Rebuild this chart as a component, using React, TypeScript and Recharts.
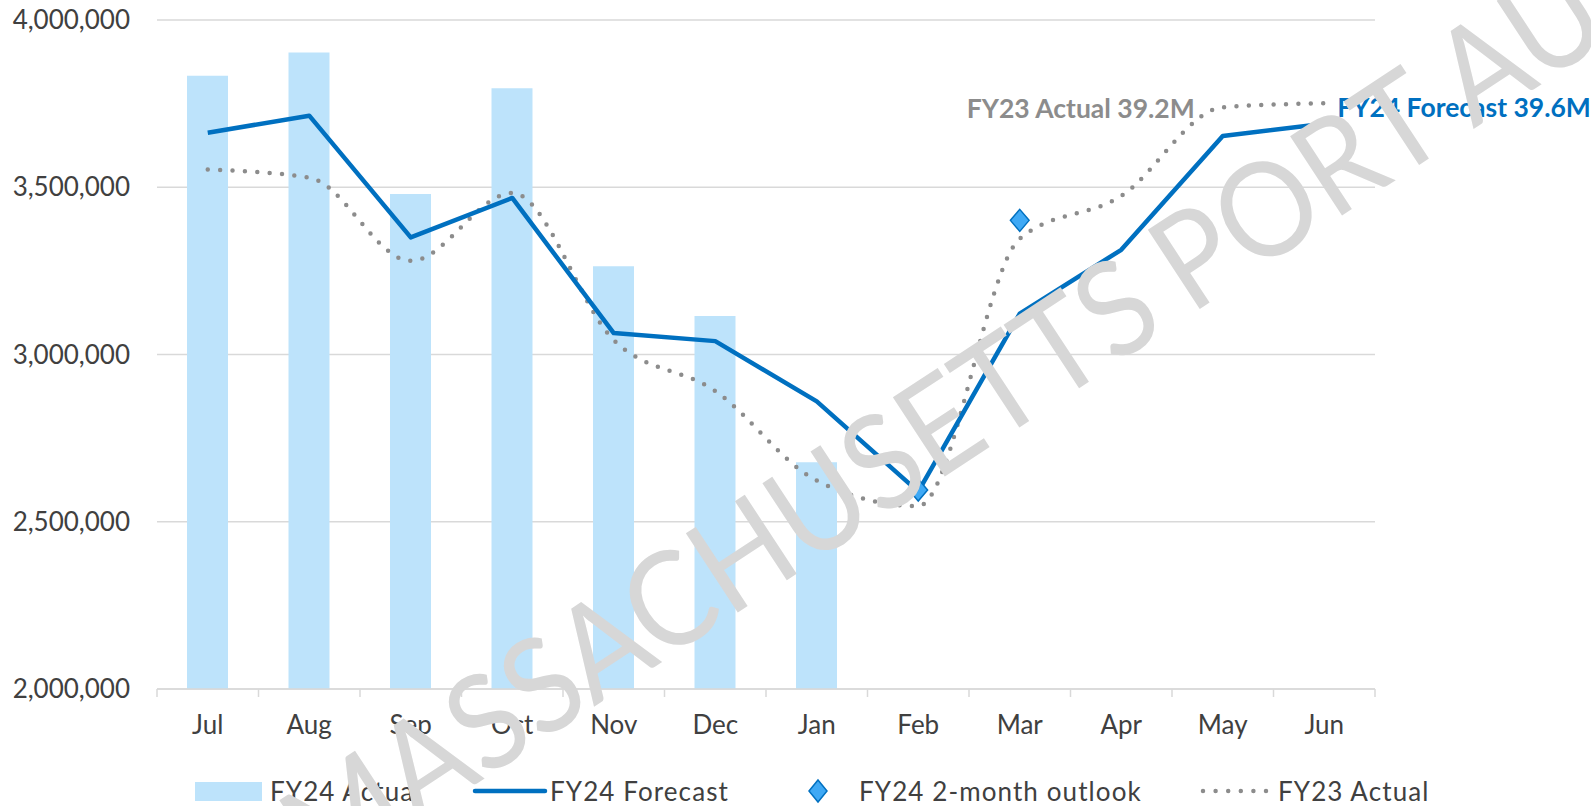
import React from 'react';
import { ComposedChart, Bar, Line, XAxis, YAxis, CartesianGrid } from 'recharts';

const months = ['Jul', 'Aug', 'Sep', 'Oct', 'Nov', 'Dec', 'Jan', 'Feb', 'Mar', 'Apr', 'May', 'Jun'];
const fy24Actual = [3833000, 3903000, 3480000, 3796000, 3264000, 3115000, 2678000, null, null, null, null, null];
const fy24Forecast = [3663000, 3714000, 3350000, 3468000, 3064000, 3040000, 2860000, 2590000, 3122000, 3313000, 3653000, 3690000];
const fy24Outlook = [null, null, null, null, null, null, null, 2595000, 3401000, null, null, null];
const fy23Actual = [3553000, 3529000, 3280000, 3483000, 3043000, 2891000, 2623000, 2547000, 3346000, 3474000, 3739000, 3751000];
const yTicks = [2000000, 2500000, 3000000, 3500000, 4000000];
const fy23LabelText = 'FY23 Actual 39.2M';
const fy24LabelText = 'FY24 Forecast 39.6M';
const fy23LabelIndex = 10;
const fy24LabelIndex = 11;
const legendNames = ['FY24 Actual', 'FY24 Forecast', 'FY24 2-month outlook', 'FY23 Actual'];
const watermarkWords = ['MASSACHUSETTS', 'PORT AUTHORITY'];

const data = months.map((m, i) => ({
  month: m,
  actual: fy24Actual[i],
  forecast: fy24Forecast[i],
  outlook: fy24Outlook[i],
  fy23: fy23Actual[i],
}));

const FONT = 'Lato, "Open Sans", sans-serif';
const TEXT = '#404040';
const GRID = '#d9d9d9';
const BAR = '#bde3fb';
const BLUE = '#0070c0';
const DIAMOND = '#3fa9f5';
const GRAY = '#8c8c8c';
const WM = '#d7d7d7';

const fmt = (v: number) => v.toLocaleString('en-US');

const XTick = (props: any) => {
  const { x, y, payload, index, width, visibleTicksCount } = props;
  const band = Number(width) / Number(visibleTicksCount);
  return (
    <g>
      <line x1={x - band / 2} x2={x - band / 2} y1={y} y2={y + 8} stroke={GRID} strokeWidth={1.5} />
      {index === visibleTicksCount - 1 ? (
        <line x1={x + band / 2} x2={x + band / 2} y1={y} y2={y + 8} stroke={GRID} strokeWidth={1.5} />
      ) : null}
      <text x={x} y={y + 45} textAnchor="middle" fill={TEXT} fontSize={26} fontFamily={FONT}>
        {payload.value}
      </text>
    </g>
  );
};

const Diamond = (props: any) => {
  const { cx, cy, value, index } = props;
  if (value == null || cx == null || cy == null) return <g key={`d${index}`} />;
  const r = 11;
  return (
    <polygon
      key={`d${index}`}
      points={`${cx},${cy - r} ${cx + r * 0.85},${cy} ${cx},${cy + r} ${cx - r * 0.85},${cy}`}
      fill={DIAMOND}
      stroke={BLUE}
      strokeWidth={1.5}
    />
  );
};

const Fy23Label = (props: any) => {
  const { x, y, index } = props;
  if (index !== fy23LabelIndex) return null;
  return (
    <text x={x - 28} y={y + 1} textAnchor="end" dominantBaseline="central" fill={GRAY} fontSize={26.5} fontWeight={700} fontFamily={FONT}>
      {fy23LabelText}
    </text>
  );
};

const Fy24Label = (props: any) => {
  const { x, y, index } = props;
  if (index !== fy24LabelIndex) return null;
  return (
    <text x={x + 13} y={y - 17} textAnchor="start" dominantBaseline="central" fill={BLUE} fontSize={26.5} fontWeight={700} fontFamily={FONT}>
      {fy24LabelText}
    </text>
  );
};

const legendText = { fill: TEXT, fontSize: 26, fontFamily: FONT, letterSpacing: 1.1 };

const LegendSvg = () => (
  <svg width={1591} height={806} style={{ position: 'absolute', left: 0, top: 0, pointerEvents: 'none' }}>
    <rect x={195} y={782} width={67} height={19} fill={BAR} />
    <text x={270} y={801} {...legendText}>{legendNames[0]}</text>
    <line x1={475} x2={545} y1={791} y2={791} stroke={BLUE} strokeWidth={4.5} strokeLinecap="round" />
    <text x={550} y={801} {...legendText}>{legendNames[1]}</text>
    <polygon points="818,780 827,791 818,802 809,791" fill={DIAMOND} stroke={BLUE} strokeWidth={1.5} />
    <text x={859} y={801} {...legendText}>{legendNames[2]}</text>
    <line x1={1203} x2={1267} y1={791} y2={791} stroke={GRAY} strokeWidth={4.5} strokeLinecap="round" strokeDasharray="0 12.6" />
    <text x={1278} y={801} {...legendText}>{legendNames[3]}</text>
  </svg>
);

const Watermark = () => (
  <svg width={1591} height={806} style={{ position: 'absolute', left: 0, top: 0, pointerEvents: 'none' }}>
    <g transform="translate(1168.8,329.3) rotate(-33.3) scale(0.92,1)">
      <text x={0} y={0} textAnchor="end" fill={WM} fontSize={132} fontFamily={FONT} fontWeight={400}>
        {watermarkWords[0]}
      </text>
    </g>
    <g transform="translate(1190.5,315) rotate(-33.3) scale(0.92,1)">
      <text x={0} y={0} textAnchor="start" fill={WM} fontSize={132} fontFamily={FONT} fontWeight={400}>
        {watermarkWords[1]}
      </text>
    </g>
  </svg>
);

export default function App() {
  return (
    <div style={{ position: 'absolute', left: 0, top: 0, width: 1591, height: 806, background: '#fff', overflow: 'hidden' }}>
      <ComposedChart
        width={1591}
        height={806}
        data={data}
        margin={{ top: 20, right: 216, bottom: 57, left: 0 }}
      >
        <CartesianGrid vertical={false} stroke={GRID} strokeWidth={1.5} />
        <XAxis
          dataKey="month"
          height={60}
          axisLine={{ stroke: GRID, strokeWidth: 1.5 }}
          tickLine={false}
          tickSize={0}
          tickMargin={0}
          interval={0}
          tick={<XTick />}
        />
        <YAxis
          width={157}
          domain={[2000000, 4000000]}
          ticks={yTicks}
          allowDataOverflow
          axisLine={false}
          tickLine={false}
          tickSize={0}
          tickMargin={27}
          tickFormatter={fmt}
          tick={{ fill: TEXT, fontSize: 26, fontFamily: FONT }}
        />
        <Bar dataKey="actual" fill={BAR} barSize={41} isAnimationActive={false} />
        <Line
          dataKey="fy23"
          type="monotone"
          stroke={GRAY}
          strokeWidth={4.5}
          strokeLinecap="round"
          strokeDasharray="0 12.4"
          dot={false}
          activeDot={false}
          label={<Fy23Label />}
          isAnimationActive={false}
        />
        <Line
          dataKey="forecast"
          type="linear"
          stroke={BLUE}
          strokeWidth={4.5}
          strokeLinejoin="round"
          dot={false}
          activeDot={false}
          label={<Fy24Label />}
          isAnimationActive={false}
        />
        <Line
          dataKey="outlook"
          stroke="none"
          dot={<Diamond />}
          activeDot={false}
          isAnimationActive={false}
        />
      </ComposedChart>
      <LegendSvg />
      <Watermark />
    </div>
  );
}
